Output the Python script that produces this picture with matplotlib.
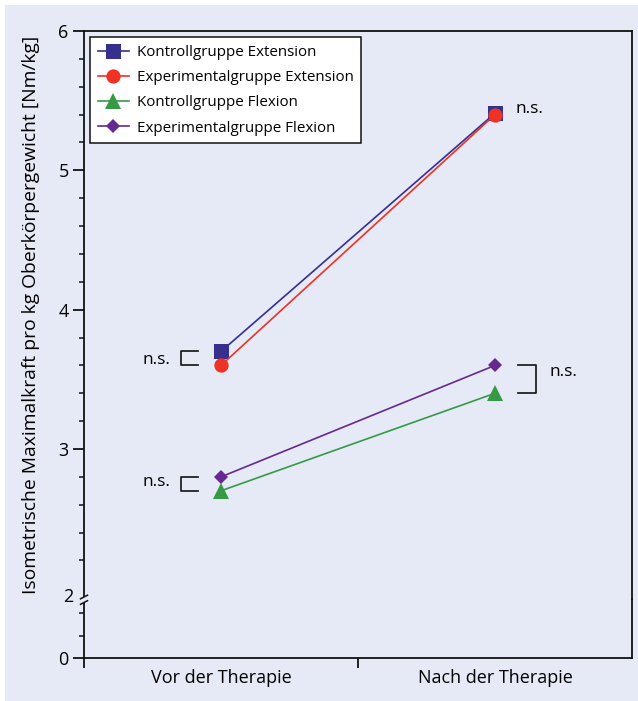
import matplotlib
matplotlib.use("Agg")
import matplotlib.pyplot as plt
from matplotlib.lines import Line2D
from matplotlib.patches import Rectangle

plt.rcParams['font.family'] = ['Open Sans', 'DejaVu Sans']

# ---- data ----
categories = ["Vor der Therapie", "Nach der Therapie"]
series_names = ["Kontrollgruppe Extension", "Experimentalgruppe Extension",
                "Kontrollgruppe Flexion", "Experimentalgruppe Flexion"]
kontroll_ext = [3.70, 5.41]
experiment_ext = [3.60, 5.40]
kontroll_flex = [2.70, 3.40]
experiment_flex = [2.80, 3.60]
sig_label = "n.s."
y_label = "Isometrische Maximalkraft pro kg Oberkörpergewicht [Nm/kg]"
upper_ticks = [3, 4, 5, 6]

# ---- style ----
W, H = 638, 701
DPI = 100
bg = "#e5eaf6"
colors = ["#372f8e", "#ee3224", "#369a45", "#66298f"]
markers = ["s", "o", "^", "D"]
msizes = [10.8, 10.3, 12.0, 7.2]
xpos = [0.5, 1.5]

def fy(py):
    return 1 - py / H

def fx(px):
    return px / W

fig = plt.figure(figsize=(W / DPI, H / DPI), dpi=DPI, facecolor="white")
fig.patches.append(Rectangle((fx(5), 0), 1, fy(5), transform=fig.transFigure,
                             facecolor=bg, edgecolor="none", zorder=-10))

left, right = 84, 632
top_px, brk_px, bot_px = 31, 599, 658
ax = fig.add_axes([fx(left), fy(brk_px), fx(right - left), fy(top_px) - fy(brk_px)])
axl = fig.add_axes([fx(left), fy(bot_px), fx(right - left), fy(brk_px) - fy(bot_px)])
for a in (ax, axl):
    a.set_facecolor("none")
    for s in a.spines.values():
        s.set_linewidth(1.3)
        s.set_color("#111111")
    a.set_xlim(0, 2)

scale = (449 - 31) / 3.0
ax.set_ylim(6 - (brk_px - top_px) / scale, 6)
ax.spines['bottom'].set_visible(False)
ax.set_xticks([])
ax.set_yticks(upper_ticks)
ax.set_yticks([v / 5 for v in range(10, 31) if v % 5 != 0], minor=True)
ax.tick_params(axis='y', which='major', direction='out', length=8, width=1.3,
               labelsize=13, pad=3, color="#111111")
ax.tick_params(axis='y', which='minor', direction='out', length=3.8, width=1.1,
               color="#111111")

axl.set_ylim(0, (bot_px - brk_px) / 45.0)
axl.spines['top'].set_visible(False)
axl.set_yticks([0])
axl.set_yticks([0.5, 1.0], minor=True)
axl.tick_params(axis='y', which='major', direction='out', length=8, width=1.3,
                labelsize=13, pad=3, color="#111111")
axl.tick_params(axis='y', which='minor', direction='out', length=3.8, width=1.1,
                color="#111111")
axl.set_xticks([0, 1])
axl.set_xticklabels(["", ""])
axl.tick_params(axis='x', which='major', direction='out', length=7.5, width=1.3,
                color="#111111")
axl.set_xticks(xpos, minor=True)
axl.set_xticklabels(categories, minor=True, fontsize=13)
axl.tick_params(axis='x', which='minor', length=0, pad=8)

# data lines
all_series = [kontroll_ext, experiment_ext, kontroll_flex, experiment_flex]
for vals, name, c, m, ms in zip(all_series, series_names, colors, markers, msizes):
    ax.plot(xpos, vals, color=c, lw=1.2, marker=m, markersize=ms,
            markeredgewidth=0, label=name, clip_on=False, zorder=3)

leg = ax.legend(loc='upper left', bbox_to_anchor=(0.011, 0.989), borderaxespad=0,
                fontsize=10.9, frameon=True, fancybox=False, framealpha=1,
                edgecolor="#111111", facecolor="white", handlelength=2.1,
                labelspacing=0.68, borderpad=0.5, handletextpad=0.5)
leg.get_frame().set_linewidth(1.1)

# significance brackets
bk = dict(color="#222222", lw=1.3, clip_on=False)
def left_bracket(y1, y2, ty):
    ax.plot([0.416, 0.354, 0.354, 0.416], [y1, y1, y2, y2], **bk)
    ax.text(0.314, ty, sig_label, ha='right', va='center', fontsize=12.5)

left_bracket(kontroll_ext[0], experiment_ext[0], (kontroll_ext[0] + experiment_ext[0]) / 2 - 0.01)
left_bracket(experiment_flex[0], kontroll_flex[0], (experiment_flex[0] + kontroll_flex[0]) / 2 + 0.01)
ax.plot([1.584, 1.650, 1.650, 1.584], [experiment_flex[1], experiment_flex[1],
        kontroll_flex[1], kontroll_flex[1]], **bk)
ax.text(1.70, (experiment_flex[1] + kontroll_flex[1]) / 2 + 0.05, sig_label,
        ha='left', va='center', fontsize=12.5)
ax.text(1.573, max(kontroll_ext[1], experiment_ext[1]) + 0.03, sig_label,
        ha='left', va='center', fontsize=12.5)

# axis break on left spine
fig.patches.append(Rectangle((fx(left - 3), fy(602.5)), fx(6), fy(596.5) - fy(602.5),
                             transform=fig.transFigure, facecolor=bg,
                             edgecolor="none", zorder=5))
for yb in (597, 602.5):
    fig.lines.append(Line2D([fx(left - 3.5), fx(left + 3.5)], [fy(yb + 1.8), fy(yb - 1.8)],
                            transform=fig.transFigure, color="#111111", lw=1.1, zorder=6))
fig.text(fx(73), fy(597), "2", ha='right', va='center', fontsize=13)

fig.text(fx(31), fy(315), y_label, rotation=90, ha='center', va='center', fontsize=13.9)

fig.savefig("out.png", dpi=DPI, facecolor="white")
